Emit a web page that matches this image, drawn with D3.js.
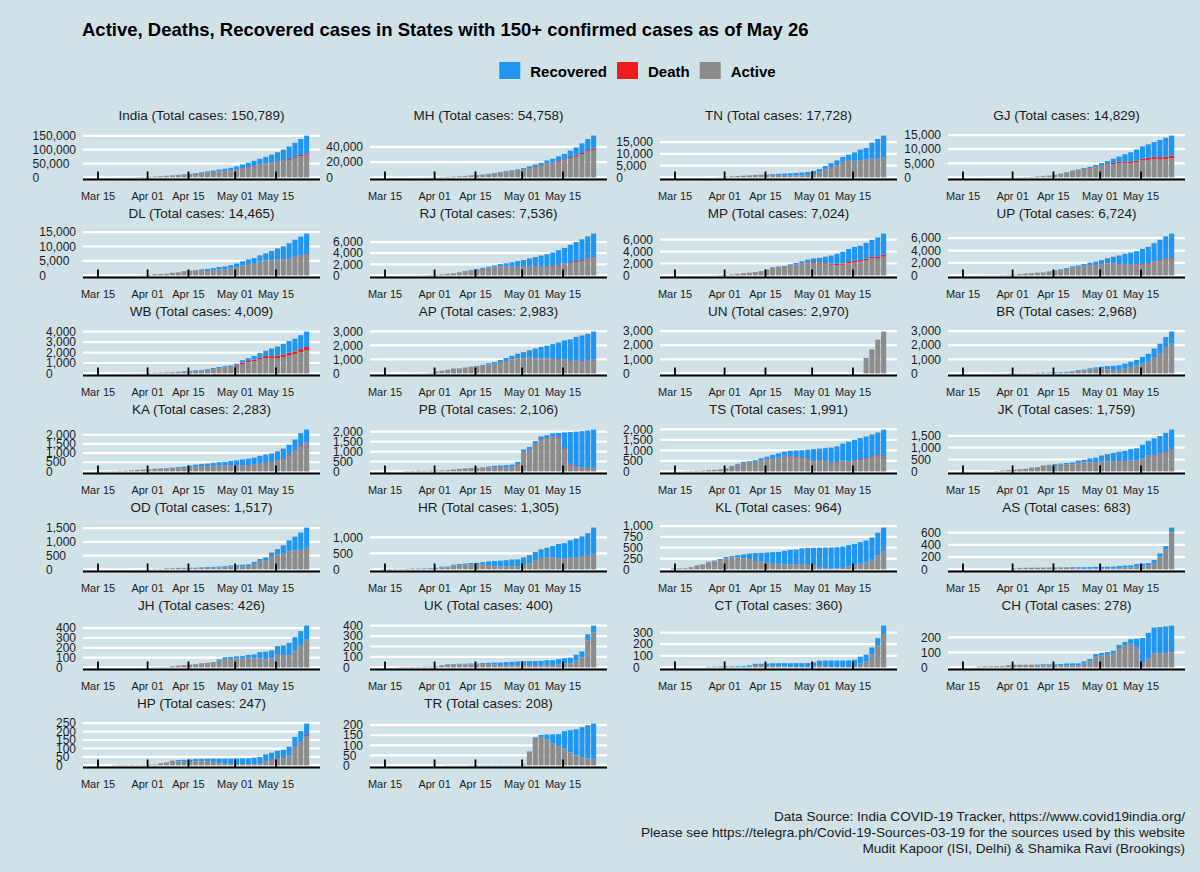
<!DOCTYPE html>
<html><head><meta charset="utf-8">
<script src="https://cdn.jsdelivr.net/npm/d3@7"></script>
<style>
body{margin:0;background:#d0e1e8;}
svg{display:block;font-family:"Liberation Sans",Arial,Helvetica,sans-serif;}
</style></head><body>
<svg id="chart" width="1200" height="872"></svg>
<script>
// ---------- DATA (cumulative values, every 2 days, Mar 15 .. May 26) ----------
const dates = ["2020-03-15","2020-03-17","2020-03-19","2020-03-21","2020-03-23","2020-03-25","2020-03-27","2020-03-29","2020-03-31",
"2020-04-02","2020-04-04","2020-04-06","2020-04-08","2020-04-10","2020-04-12","2020-04-14","2020-04-16","2020-04-18","2020-04-20","2020-04-22","2020-04-24","2020-04-26","2020-04-28","2020-04-30",
"2020-05-02","2020-05-04","2020-05-06","2020-05-08","2020-05-10","2020-05-12","2020-05-14","2020-05-16","2020-05-18","2020-05-20","2020-05-22","2020-05-24","2020-05-26"];
const xTickDates = ["2020-03-15","2020-04-01","2020-04-15","2020-05-01","2020-05-15"];
const xTickLabels = ["Mar 15","Apr 01","Apr 15","May 01","May 15"];
const seriesNames = ["Recovered","Death","Active"];
const stateNames = ["India","MH","TN","GJ","DL","RJ","MP","UP","WB","AP","UN","BR","KA","PB","TS","JK","OD","HR","KL","AS","JH","UK","CT","CH","HP","TR"];
const yTickSteps = [50000,20000,5000,5000,5000,2000,2000,2000,1000,1000,1000,1000,500,500,500,500,500,500,250,200,100,100,100,100,50,50];

const c_India=[113,142,194,330,499,657,887,1139,1635, 2543,3588,4778,5916,7600,9205,11487,13430,15722,18539,21700,24447,27890,31324,34863, 39826,46437,52987,59695,67161,74292,81997,90648,100328,111263,124758,138536,150789];
const r_India=[10,14,20,23,40,43,73,102,144, 191,229,326,469,774,1036,1362,1767,2463,3260,4325,5210,6184,7747,9068, 10887,13161,15331,17887,20917,24386,27920,34224,39233,45299,51784,57721,64277];
const d_India=[2,3,4,7,10,12,20,27,45, 72,99,136,178,249,331,393,448,521,592,686,780,882,1008,1154, 1323,1566,1785,1987,2212,2415,2649,2871,3156,3435,3728,4024,4337];

const c_MH=[32,41,48,64,97,122,153,203,302, 423,635,868,1135,1574,1985,2687,3205,3648,4666,5652,6817,8068,9318,10498, 12296,14541,16758,19063,22171,24427,27524,30706,35058,39297,44582,50231,54758];
const r_MH=[0,0,0,0,0,1,25,35,39, 42,50,56,117,188,208,259,300,365,572,789,957,1188,1388,1773, 2000,2465,3094,3470,4199,5125,6059,7088,8437,9639,12583,14600,16954];
const d_MH=[0,1,1,2,2,3,5,6,10, 19,32,52,72,110,149,178,194,211,232,269,301,342,400,459, 521,583,651,731,832,921,1019,1135,1249,1390,1517,1635,1792];

const c_TN=[1,1,3,6,9,18,35,50,124, 309,485,621,738,911,1075,1173,1267,1372,1520,1629,1755,1885,2058,2323, 2757,3550,4829,6009,7204,8718,9674,10585,11760,12448,14753,16277,17728];
const r_TN=[0,0,0,0,1,1,1,1,6, 6,6,8,21,44,50,58,180,365,457,662,960,1020,1128,1258, 1341,1409,1516,1605,1959,2134,2240,3538,4406,4895,6791,8324,9342];
const d_TN=[0,0,0,0,0,1,1,1,1, 1,3,6,8,10,11,13,15,15,17,18,22,24,25,27, 30,31,35,40,47,61,66,74,81,84,98,111,133];

const c_GJ=[0,0,2,7,30,38,44,58,74, 87,105,146,186,378,516,650,930,1376,1851,2407,2815,3301,3774,4395, 5054,5804,6625,7402,8194,8903,9931,10988,11746,12539,13273,14056,14829];
const r_GJ=[0,0,0,0,0,0,1,1,3, 3,10,20,25,26,44,59,73,93,106,179,265,313,434,613, 896,1195,1500,1872,2545,3246,4035,4308,4804,5219,6091,6636,7139];
const d_GJ=[0,0,0,0,1,1,3,5,6, 7,12,12,16,19,25,28,36,53,67,103,127,162,181,214, 262,319,396,449,493,537,606,625,694,749,802,858,915];

const c_DL=[7,8,12,26,30,31,39,49,120, 219,445,523,576,903,1069,1510,1640,1893,2081,2248,2514,2918,3108,3515, 4122,4898,5532,5980,6923,7639,8470,9333,10054,11088,12319,13418,14465];
const r_DL=[2,2,2,5,6,6,6,6,6, 8,15,19,21,25,25,30,51,72,431,724,857,877,1078,1094, 1256,1431,1542,1931,2069,2512,3045,3926,4485,5192,5897,6540,7223];
const d_DL=[1,1,1,1,1,1,1,2,2, 4,6,7,9,14,19,28,38,43,47,48,53,54,54,59, 64,64,65,66,73,86,115,129,160,176,208,261,288];

const c_RJ=[2,4,7,17,32,36,45,59,93, 120,200,288,383,561,804,1005,1131,1351,1576,1801,2034,2185,2364,2582, 2772,3061,3317,3579,3814,4126,4534,4960,5507,6015,6494,7028,7536];
const r_RJ=[0,0,0,3,3,3,3,3,3, 3,21,21,21,21,25,147,164,183,205,230,334,539,768,1014, 1116,1490,1681,1977,2213,2420,2654,2851,3133,3419,3706,3983,4294];
const d_RJ=[0,0,0,0,0,0,1,1,1, 2,3,4,4,5,8,11,14,17,25,28,39,46,53,59, 65,77,92,101,107,117,125,128,138,147,153,163,170];

const c_MP=[0,0,0,4,6,14,20,33,66, 99,163,256,397,435,564,730,987,1355,1485,1587,1852,2096,2368,2660, 2846,2942,3138,3341,3614,3986,4426,4789,4977,5465,5981,6371,7024];
const r_MP=[0,0,0,0,0,0,0,0,0, 0,0,0,0,0,44,51,64,69,127,152,203,302,377,482, 624,798,1099,1349,1676,1982,2171,2315,2403,2630,2843,3267,3571];
const d_MP=[0,0,0,0,0,1,1,2,5, 6,9,16,33,36,43,50,53,65,74,80,88,99,113,137, 156,165,185,200,215,225,237,248,248,258,270,281,305];

const c_UP=[12,15,17,24,33,41,44,72,103, 113,227,305,361,433,483,657,805,974,1184,1449,1621,1843,2053,2211, 2455,2766,2998,3214,3467,3664,3902,4258,4605,5175,5735,6268,6724];
const r_UP=[4,5,9,9,11,11,11,14,14, 14,19,21,26,31,47,51,68,108,140,173,206,289,401,516, 689,802,1130,1387,1758,1902,2072,2441,2636,2948,3324,3538,3991];
const d_UP=[0,0,0,0,0,0,0,0,0, 2,2,3,4,5,5,5,13,14,18,21,25,29,37,41, 43,56,60,66,74,82,88,104,118,127,152,161,177];

const c_WB=[0,1,1,4,7,9,15,18,26, 53,69,80,99,116,152,213,255,287,339,423,514,611,697,758, 922,1259,1456,1678,1939,2173,2377,2576,2825,3103,3332,3667,4009];
const r_WB=[0,0,0,0,0,0,0,0,0, 3,3,10,10,16,29,37,51,55,66,73,103,105,109,124, 151,218,265,364,417,499,728,872,1006,1136,1221,1339,1484];
const d_WB=[0,0,0,0,1,1,1,3,3, 4,5,6,6,7,7,7,10,12,12,15,18,18,20,33, 133,140,144,151,185,207,215,232,244,253,265,272,283];

const c_AP=[1,1,1,3,7,8,13,19,40, 132,190,266,348,363,420,483,534,603,722,813,955,1097,1259,1403, 1525,1650,1777,1887,1980,2090,2205,2355,2432,2602,2709,2823,2983];
const r_AP=[0,0,0,0,0,1,1,1,1, 1,1,1,9,10,11,16,20,42,92,120,145,231,258,321, 441,524,729,842,925,1056,1192,1353,1540,1680,1848,1903,2009];
const d_AP=[0,0,0,0,0,0,0,0,0, 0,1,3,4,6,7,9,14,15,20,24,29,31,31,31, 33,34,36,41,45,46,48,49,50,53,56,58,60];

const c_UN=[0,0,0,0,0,0,0,0,0, 0,0,0,0,0,0,0,0,0,0,0,0,0,0,0, 0,0,0,0,0,0,0,0,0,1100,1700,2400,2970];
const r_UN=[0,0,0,0,0,0,0,0,0, 0,0,0,0,0,0,0,0,0,0,0,0,0,0,0, 0,0,0,0,0,0,0,0,0,0,0,0,0];
const d_UN=[0,0,0,0,0,0,0,0,0, 0,0,0,0,0,0,0,0,0,0,0,0,0,0,0, 0,0,0,0,0,0,0,0,0,0,0,0,0];

const c_BR=[0,0,0,0,2,4,9,11,23, 29,32,32,38,60,64,66,80,85,113,143,223,274,366,425, 471,517,542,579,696,831,966,1178,1391,1766,2105,2587,2968];
const r_BR=[0,0,0,0,0,0,0,0,0, 0,0,0,0,15,15,29,37,37,42,46,46,56,73,84, 140,236,296,320,364,372,410,485,528,605,664,712,853];
const d_BR=[0,0,0,0,1,1,1,1,1, 1,1,1,1,1,1,1,2,2,2,2,2,2,2,2, 2,4,5,5,6,6,7,7,9,9,11,13,13];

const c_KA=[6,11,14,20,33,41,64,83,101, 110,144,163,181,207,232,260,315,371,408,427,474,503,523,565, 601,651,693,753,848,925,987,1092,1246,1462,1743,2089,2283];
const r_KA=[0,0,1,1,2,3,5,5,8, 9,12,20,28,34,54,71,82,92,112,131,171,183,201,229, 271,321,354,376,426,464,480,496,530,556,597,654,705];
const d_KA=[1,1,1,1,1,1,3,3,3, 3,4,4,5,6,6,10,13,13,16,17,18,19,21,21, 25,27,29,30,31,31,35,36,37,40,41,44,44];

const c_PB=[0,0,1,2,21,29,38,38,41, 46,57,68,99,132,151,176,186,202,245,283,298,313,342,480, 1102,1232,1526,1762,1823,1914,1935,1964,1980,2002,2029,2060,2106];
const r_PB=[0,0,0,0,0,0,1,1,1, 1,1,4,4,14,14,25,27,30,39,69,71,101,104,107, 117,128,135,149,168,171,200,800,1600,1750,1840,1880,1918];
const d_PB=[0,0,1,1,1,1,1,1,1, 4,5,6,8,11,11,13,13,14,16,17,17,18,19,20, 21,23,27,31,31,32,32,35,37,38,39,39,40];

const c_TS=[3,5,13,21,33,39,59,70,97, 154,269,364,453,487,531,624,700,791,858,943,984,1001,1009,1038, 1061,1085,1107,1133,1196,1326,1414,1509,1592,1661,1761,1854,1991];
const r_TS=[0,0,0,0,0,1,1,1,1, 1,32,35,45,45,103,118,120,186,193,194,253,316,374,442, 585,585,628,727,751,822,952,971,1002,1036,1043,1092,1284];
const d_TS=[0,0,0,0,0,0,0,1,3, 9,11,11,12,12,16,17,18,18,21,24,26,26,26,28, 28,29,29,29,30,32,34,34,34,40,45,53,57];

const c_JK=[2,3,4,4,4,7,18,38,55, 70,92,109,158,184,245,278,314,328,354,380,454,494,546,581, 666,726,775,823,861,934,971,1121,1289,1390,1489,1621,1759];
const r_JK=[0,0,0,0,0,1,1,1,2, 2,4,4,4,6,6,30,36,42,56,81,92,111,164,216, 254,305,348,386,427,466,518,575,617,707,721,809,821];
const d_JK=[0,0,0,0,0,0,1,2,2, 2,2,2,4,4,4,4,4,5,5,5,5,6,6,8, 8,8,9,9,9,10,11,13,14,18,20,21,24];

const c_OD=[0,1,1,2,2,2,3,3,4, 4,20,21,42,44,54,54,60,61,74,83,90,103,118,143, 154,169,185,271,377,437,611,737,876,1052,1189,1336,1517];
const r_OD=[0,0,0,0,0,0,0,0,0, 0,0,2,2,2,2,12,18,18,24,31,33,37,39,41, 55,61,62,68,68,116,125,200,300,390,500,630,733];
const d_OD=[0,0,0,0,0,0,0,0,0, 0,0,1,1,1,1,1,1,1,1,1,1,1,1,1, 1,1,2,2,3,3,3,3,4,7,7,7,7];

const c_HR=[14,15,17,17,21,28,30,33,43, 49,84,90,147,169,185,199,205,225,251,264,272,289,308,313, 376,442,546,625,675,730,793,818,910,964,1031,1131,1305];
const r_HR=[0,0,0,0,0,0,11,14,21, 24,25,27,28,29,33,43,54,60,113,161,181,202,209,225, 236,243,257,265,299,349,453,479,538,599,632,691,838];
const d_HR=[0,0,0,0,0,0,0,0,0, 0,1,1,2,2,3,3,3,3,3,3,3,3,3,4, 4,5,6,8,10,11,11,11,14,14,15,16,17];

const c_KL=[22,27,28,52,95,118,176,202,241, 286,306,327,345,364,375,379,388,396,402,427,450,458,485,497, 499,500,503,505,512,524,560,587,630,666,732,847,964];
const r_KL=[3,3,3,3,4,4,11,16,24, 26,28,58,84,123,179,198,218,245,270,307,331,338,359,392, 401,462,474,484,489,489,490,497,497,502,512,521,534];
const d_KL=[0,0,0,0,0,0,1,1,2, 2,2,2,2,2,3,3,3,3,3,3,3,4,4,4, 4,4,4,4,4,4,4,4,4,4,4,5,6];

const c_AS=[0,0,0,0,0,0,0,0,1, 16,25,27,28,29,30,31,33,34,35,35,36,36,38,42, 43,43,45,56,63,65,86,92,104,154,260,380,683];
const r_AS=[0,0,0,0,0,0,0,0,0, 0,0,0,0,0,0,0,5,5,5,12,19,27,27,29, 32,32,34,34,34,34,41,41,41,49,54,57,71];
const d_AS=[0,0,0,0,0,0,0,0,0, 0,0,0,0,0,1,1,1,1,1,1,1,1,1,1, 1,1,1,1,1,2,2,2,2,2,4,4,4];

const c_JH=[0,0,0,0,0,0,0,0,1, 1,3,4,4,13,17,24,28,33,42,46,55,82,103,107, 113,115,127,132,156,160,173,217,223,250,308,370,426];
const r_JH=[0,0,0,0,0,0,0,0,0, 0,0,0,0,0,0,0,0,0,0,0,8,13,19,20, 21,25,29,41,64,78,79,87,100,129,136,140,142];
const d_JH=[0,0,0,0,0,0,0,0,0, 0,0,0,0,1,1,2,2,2,2,2,3,3,3,3, 3,3,3,3,3,3,3,3,3,3,3,3,3];

const c_UK=[1,1,1,3,4,5,5,7,7, 10,22,31,33,35,35,37,37,42,44,46,47,51,54,57, 59,60,61,63,68,69,78,88,93,122,153,317,400];
const r_UK=[0,0,0,0,0,0,0,2,2, 2,2,5,5,5,5,9,9,9,11,18,24,28,36,36, 39,39,39,46,46,46,51,52,53,54,56,58,64];
const d_UK=[0,0,0,0,0,0,0,0,0, 0,0,0,0,0,0,0,0,0,0,0,0,0,0,0, 0,0,0,0,0,0,0,0,0,1,1,1,1];

const c_CT=[0,0,1,1,1,1,6,7,9, 9,10,10,10,18,31,31,33,36,36,36,36,37,37,38, 43,57,59,59,59,59,60,66,92,110,172,252,360];
const r_CT=[0,0,0,0,0,0,1,1,3, 3,3,9,9,10,10,10,13,23,25,28,32,33,36,36, 36,36,54,56,56,57,57,57,59,59,60,65,79];
const d_CT=[0,0,0,0,0,0,0,0,0, 0,0,0,0,0,0,0,0,0,0,0,0,0,0,0, 0,0,0,0,0,0,0,0,0,0,0,0,0];

const c_CH=[0,0,1,5,7,7,8,8,15, 18,18,18,18,19,21,21,21,23,26,27,27,40,56,88, 97,102,111,150,169,187,191,196,230,265,268,272,278];
const r_CH=[0,0,0,0,0,0,0,0,0, 0,0,0,0,7,7,7,9,9,12,13,14,14,16,17, 18,18,20,21,24,30,60,165,170,172,174,176,180];
const d_CH=[0,0,0,0,0,0,0,0,0, 0,0,0,0,0,0,0,0,0,0,0,0,0,0,0, 1,1,1,1,2,2,2,3,3,3,3,3,4];

const c_HP=[0,0,0,2,3,3,3,3,3, 6,6,13,18,28,32,33,35,39,39,40,40,40,40,40, 41,42,42,46,50,65,75,86,92,110,168,203,247];
const r_HP=[0,0,0,0,0,0,0,1,1, 1,1,1,2,2,8,12,15,16,16,17,19,28,30,32, 34,34,36,37,41,41,43,43,50,53,58,63,68];
const d_HP=[0,0,0,0,1,1,1,1,1, 1,1,1,1,1,1,1,1,1,1,1,1,1,1,1, 1,1,1,2,2,2,3,3,3,3,3,4,5];

const c_TR=[0,0,0,0,0,0,0,0,0, 0,0,1,1,1,1,2,2,2,2,2,2,2,2,2, 5,70,140,152,154,155,156,170,175,180,190,200,208];
const r_TR=[0,0,0,0,0,0,0,0,0, 0,0,0,0,0,0,1,1,1,2,2,2,2,2,2, 2,2,2,10,25,45,60,85,110,130,150,165,175];
const d_TR=[0,0,0,0,0,0,0,0,0, 0,0,0,0,0,0,0,0,0,0,0,0,0,0,0, 0,0,0,0,0,0,0,0,0,0,0,0,0];

// ---------- build table ----------
const seriesTable = {
  India:[c_India,r_India,d_India], MH:[c_MH,r_MH,d_MH], TN:[c_TN,r_TN,d_TN], GJ:[c_GJ,r_GJ,d_GJ],
  DL:[c_DL,r_DL,d_DL], RJ:[c_RJ,r_RJ,d_RJ], MP:[c_MP,r_MP,d_MP], UP:[c_UP,r_UP,d_UP],
  WB:[c_WB,r_WB,d_WB], AP:[c_AP,r_AP,d_AP], UN:[c_UN,r_UN,d_UN], BR:[c_BR,r_BR,d_BR],
  KA:[c_KA,r_KA,d_KA], PB:[c_PB,r_PB,d_PB], TS:[c_TS,r_TS,d_TS], JK:[c_JK,r_JK,d_JK],
  OD:[c_OD,r_OD,d_OD], HR:[c_HR,r_HR,d_HR], KL:[c_KL,r_KL,d_KL], AS:[c_AS,r_AS,d_AS],
  JH:[c_JH,r_JH,d_JH], UK:[c_UK,r_UK,d_UK], CT:[c_CT,r_CT,d_CT], CH:[c_CH,r_CH,d_CH],
  HP:[c_HP,r_HP,d_HP], TR:[c_TR,r_TR,d_TR]
};

// ---------- style / layout ----------
const BG = "#d0e1e8";
const COLORS = {Recovered:"#2196f0", Death:"#ee1c1c", Active:"#8c8c8c"};
const FONT_DARK = "#1c1c1c";
const colLeft = [83, 370, 660, 948];
const panelW = 237;
const firstTitleY = 115, rowPitch = 98;
const DAY = 864e5;

const parse = d3.utcParse("%Y-%m-%d");
const dateObjs = dates.map(parse);
const x = d3.scaleUtc()
  .domain([new Date(Date.UTC(2020,2,9,20,40)), new Date(Date.UTC(2020,4,30,2,0))])
  .range([0, panelW]);
const barW = x(new Date(+x.domain()[0] + 1.75*DAY)) - x(x.domain()[0]);

const svg = d3.select("#chart");
svg.append("rect").attr("width",1200).attr("height",872).attr("fill",BG);

svg.append("text").attr("x",82).attr("y",36)
  .attr("font-size",18.5).attr("font-weight","bold").attr("fill","#000")
  .text("Active, Deaths, Recovered cases in States with 150+ confirmed cases as of May 26");

// legend
const legend = svg.append("g");
let lx = 0;
seriesNames.forEach(name => {
  const it = legend.append("g").attr("transform",`translate(${lx},0)`);
  it.append("rect").attr("x",0).attr("y",62).attr("width",21).attr("height",17).attr("fill",COLORS[name]);
  const t = it.append("text").attr("x",31).attr("y",77).attr("font-size",15).attr("font-weight","bold").attr("fill","#000").text(name);
  lx += 31 + t.node().getComputedTextLength() + 10;
});
legend.attr("transform",`translate(${637.5 - (lx-10)/2},0)`);

// panels
const fmt = d3.format(",");
stateNames.forEach((name, i) => {
  const [cArr, rArr, dArr] = seriesTable[name];
  const col = i % 4, row = Math.floor(i / 4);
  const left = colLeft[col];
  const titleY = firstTitleY + row*rowPitch;
  const top = titleY + 18.5, bottom = titleY + 64.5;
  const maxV = d3.max(cArr);
  const y = d3.scaleLinear().domain([-0.05*maxV, 1.05*maxV]).range([bottom, top]);
  const rows = dateObjs.map((dt,k) => ({
    date: dt,
    Active: Math.max(0, cArr[k] - rArr[k] - dArr[k]),
    Death: dArr[k],
    Recovered: rArr[k]
  }));
  const g = svg.append("g").attr("transform",`translate(${left},0)`);

  // title
  g.append("text").attr("x",panelW/2).attr("y",titleY+5).attr("text-anchor","middle")
    .attr("font-size",13.5).attr("fill",FONT_DARK)
    .text(`${name} (Total cases: ${fmt(cArr[cArr.length-1])})`);

  // gridlines
  const yt = d3.range(0, 1.05*maxV + 1e-9, yTickSteps[i]);
  g.selectAll("line.grid").data(yt).join("line").attr("class","grid")
    .attr("x1",0).attr("x2",panelW).attr("y1",d=>y(d)).attr("y2",d=>y(d))
    .attr("stroke","#ffffff").attr("stroke-width",2.2);

  // stacked bars
  const stacked = d3.stack().keys(["Active","Death","Recovered"])(rows);
  g.selectAll("g.layer").data(stacked).join("g").attr("class","layer")
    .attr("fill", d => COLORS[d.key])
    .selectAll("rect").data(d => d).join("rect")
    .attr("x", d => x(new Date(+d.data.date - 0.5*DAY)) - barW/2)
    .attr("width", barW)
    .attr("y", d => y(d[1]))
    .attr("height", d => Math.max(0, y(d[0]) - y(d[1])));

  // x axis line + inward ticks
  g.append("line").attr("x1",0).attr("x2",panelW).attr("y1",bottom).attr("y2",bottom)
    .attr("stroke","#000").attr("stroke-width",2);
  const xt = xTickDates.map(parse);
  g.selectAll("line.xt").data(xt).join("line").attr("class","xt")
    .attr("x1",d=>x(d)).attr("x2",d=>x(d)).attr("y1",bottom).attr("y2",bottom-8)
    .attr("stroke","#000").attr("stroke-width",1.8);
  g.selectAll("text.xl").data(xt).join("text").attr("class","xl")
    .attr("x",d=>x(d)).attr("y",bottom+20.5).attr("text-anchor","middle")
    .attr("font-size",11).attr("fill",FONT_DARK)
    .text((d,k)=>xTickLabels[k]);

  // y labels (left-aligned within this panel's axis)
  const yl = g.selectAll("text.yl").data(yt).join("text").attr("class","yl")
    .attr("y",d=>y(d)+4.2).attr("font-size",12).attr("fill",FONT_DARK)
    .text(d=>fmt(d));
  let maxW = 0;
  yl.each(function(){ maxW = Math.max(maxW, this.getComputedTextLength()); });
  yl.attr("x", -7 - maxW);
});

// footer
const footer = ["Data Source: India COVID-19 Tracker, https://www.covid19india.org/",
  "Please see https://telegra.ph/Covid-19-Sources-03-19 for the sources used by this website",
  "Mudit Kapoor (ISI, Delhi) & Shamika Ravi (Brookings)"];
svg.selectAll("text.foot").data(footer).join("text").attr("class","foot")
  .attr("x",1185).attr("y",(d,k)=>820.5+k*16).attr("text-anchor","end")
  .attr("font-size",13.6).attr("fill",FONT_DARK).text(d=>d);
</script>
</body></html>
